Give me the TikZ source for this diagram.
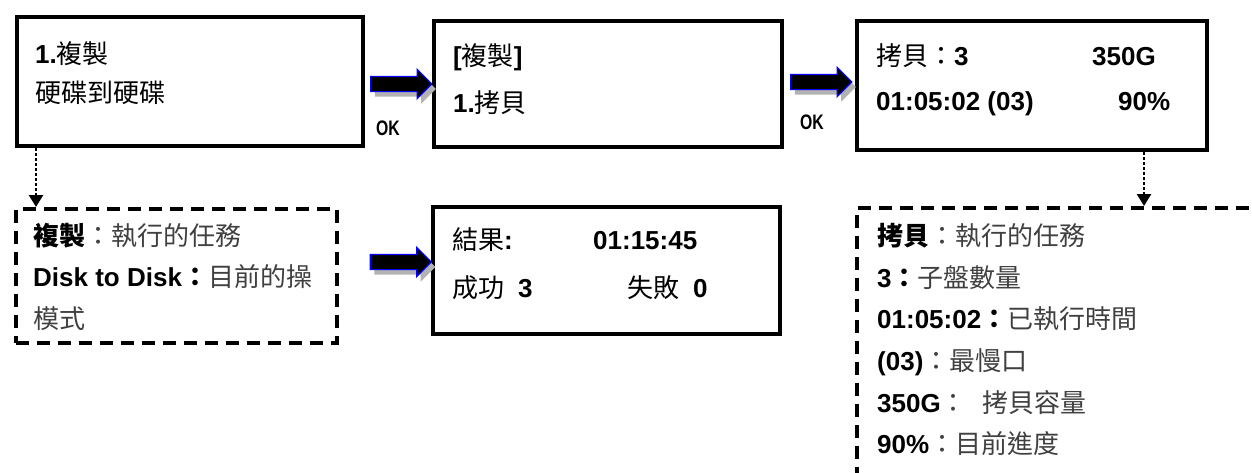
\documentclass[tikz,border=0pt]{standalone}
\usepackage{fontspec}
\usepackage{graphicx}
\setmainfont{Liberation Sans}
\newfontfamily\cjk{Noto Sans CJK TC}
\usetikzlibrary{shapes.arrows,shadows,arrows.meta}
\newcommand\C[1]{{\cjk\mdseries #1}}
\newcommand\CB[1]{{\cjk\bfseries #1}}
\newcommand\CL[1]{{\cjk\mdseries\color{black!75}#1}}
\begin{document}
\begin{tikzpicture}[x=1pt,y=-1pt,
  screen/.style={draw, line width=4pt, inner sep=0pt, anchor=north west},
  note/.style={draw, line width=3.5pt, dash pattern=on 13pt off 8pt, inner sep=0pt, anchor=north west},
  txt/.style={anchor=west, inner sep=0pt, text height=20pt, text depth=0pt, font=\fontsize{26}{30}\selectfont\bfseries},
  blockarrow/.style={single arrow, fill=black, draw=blue, line width=1.2pt, minimum height=61pt,
    inner xsep=0pt, inner ysep=7pt, single arrow head extend=7pt,
    drop shadow={shadow xshift=4pt, shadow yshift=-5pt, fill=black!30, opacity=1}},
  oklabel/.style={inner sep=0pt, font=\fontsize{21}{22}\selectfont\bfseries},
  dotarrow/.style={line width=2.5pt, dash pattern=on 2.5pt off 2.5pt, -{Triangle[length=12pt,width=14pt]}},
]
\useasboundingbox (0,0) rectangle (1252,472);
\clip (0,0) rectangle (1252,472);

% screens
\node[screen, minimum width=346pt, minimum height=129pt] (b1) at (15,15) {};
\node[screen, minimum width=348pt, minimum height=126pt] (b2) at (432,19) {};
\node[screen, minimum width=350pt, minimum height=129pt] (b3) at (855,19) {};
\node[screen, minimum width=347pt, minimum height=127pt] (b4) at (431,205) {};
% notes
\node[note, minimum width=321pt, minimum height=134pt] (d1) at (14,207) {};
\node[note, minimum width=500pt, minimum height=400pt] (d2) at (855,206) {};

% screen texts
\node[txt] (t1a) at (35,53) {1.\C{複製}};
\node[txt] (t1b) at (35,92) {\C{硬碟到硬碟}};
\node[txt] (t2a) at (453,55) {[\C{複製}]};
\node[txt] (t2b) at (453,102) {1.\C{拷貝}};
\node[txt] (t3a) at (876,55) {\C{拷貝：}3};
\node[txt] (t3b) at (1092,55) {350G};
\node[txt] (t3c) at (876,100) {01:05:02 (03)};
\node[txt] (t3d) at (1118,100) {90\%};
\node[txt] (t4a) at (452,239) {\C{結果}:};
\node[txt] (t4b) at (593,239) {01:15:45};
\node[txt] (t4c) at (452,287) {\C{成功}\hspace{14pt}3};
\node[txt] (t4d) at (627,287) {\C{失敗}\hspace{14pt}0};

% note texts
\node[txt] (n1a) at (33,235) {\CB{複製}\CL{：執行的任務}};
\node[txt] (n1b) at (33,276) {Disk to Disk\CB{：}\CL{目前的操}};
\node[txt] (n1c) at (33,318) {\CL{模式}};
\node[txt] (n2a) at (877,235) {\CB{拷貝}\CL{：執行的任務}};
\node[txt] (n2b) at (877,277) {3\CB{：}\CL{子盤數量}};
\node[txt] (n2c) at (877,318) {01:05:02\CB{：}\CL{已執行時間}};
\node[txt] (n2d) at (877,360) {(03)\CL{：最慢口}};
\node[txt] (n2e) at (877,402) {350G\CL{：}\hspace{16pt}\CL{拷貝容量}};
\node[txt] (n2f) at (877,443) {90\%\CL{：目前進度}};

% block arrows
\node[blockarrow] (a1) at (397.5,84) {};
\node[blockarrow] (a2) at (817.5,82) {};
\node[blockarrow] (a3) at (397,262) {};

% OK labels
\node[oklabel] (ok1) at (388,128) {\scalebox{0.75}[1]{OK}};
\node[oklabel] (ok2) at (812,122) {\scalebox{0.75}[1]{OK}};

% dotted arrows
\draw[dotarrow] ([xshift=21pt]b1.south west) -- ([xshift=21pt]b1.south west |- d1.north);
\draw[dotarrow] ([xshift=-65pt]b3.south east) -- ([xshift=-65pt]b3.south east |- d2.north);
\end{tikzpicture}
\end{document}
